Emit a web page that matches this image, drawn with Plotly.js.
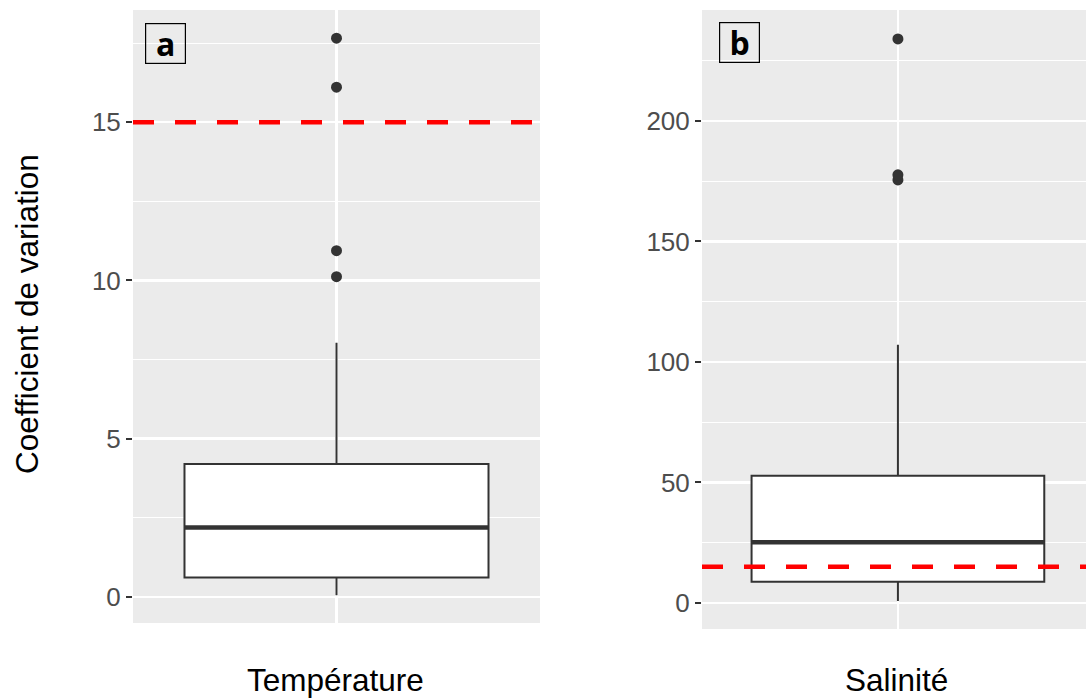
<!DOCTYPE html>
<html>
<head>
<meta charset="utf-8">
<script src="https://cdn.plot.ly/plotly-3.0.1.min.js"></script>
<style>html,body{margin:0;padding:0;background:#fff;}#chart{width:1086px;height:700px;}</style>
</head>
<body>
<div id="chart"></div>
<script>
// ---- data ----
const panelLabels = ['a', 'b'];
const categories = ['Température', 'Salinité'];
const yTitle = 'Coefficient de variation';
const thresholds = [15, 15];

const tempStats = {lower: 0.05, q1: 0.61, median: 2.19, q3: 4.2, upper: 8.03};
const tempOutliers = [10.12, 10.94, 16.11, 17.66];

const salStats = {lower: 0.8, q1: 8.8, median: 25.2, q3: 52.8, upper: 107.1};
const salOutliers = [175.5, 177.6, 234];

const tickValsA = [0, 5, 10, 15];
const tickValsB = [0, 50, 100, 150, 200];

// ---- style ----
const W = 1086, H = 700;
const dark = '#333333';
const boxW = 0.747;
const tickFont = {family: 'Liberation Sans, Arial, sans-serif', size: 26, color: '#4D4D4D'};
const titleFont = {family: 'Liberation Sans, Arial, sans-serif', size: 31.5, color: '#000000'};

function boxTrace(stats, xa, ya) {
  return {
    type: 'box', x: [0], q1: [stats.q1], median: [stats.median], q3: [stats.q3],
    lowerfence: [stats.lower], upperfence: [stats.upper],
    width: boxW, whiskerwidth: 0, fillcolor: '#FFFFFF', line: {color: dark, width: 2},
    boxpoints: false, xaxis: xa, yaxis: ya, hoverinfo: 'skip', showlegend: false
  };
}
function outlierTrace(vals, xa, ya) {
  return {
    type: 'scatter', mode: 'markers', x: vals.map(() => 0), y: vals,
    marker: {color: dark, size: 11}, xaxis: xa, yaxis: ya, hoverinfo: 'skip', showlegend: false
  };
}

const traces = [
  boxTrace(tempStats, 'x', 'y'), outlierTrace(tempOutliers, 'x', 'y'),
  boxTrace(salStats, 'x2', 'y2'), outlierTrace(salOutliers, 'x2', 'y2')
];

function xAxis(domain, range) {
  return {domain: domain, range: range, tickvals: [0], showticklabels: false, ticks: '',
    showgrid: true, gridcolor: '#FFFFFF', gridwidth: 2.2, zeroline: false, showline: false,
    fixedrange: true, automargin: false};
}
function yAxis(domain, range, tickvals, minorD, anchor) {
  return {domain: domain, range: range, tickvals: tickvals, anchor: anchor,
    ticks: 'outside', ticklen: 6, tickwidth: 2, tickcolor: dark, tickfont: tickFont,
    showgrid: true, gridcolor: '#FFFFFF', gridwidth: 2.2, zeroline: false, showline: false,
    minor: {dtick: minorD, showgrid: true, gridcolor: '#FFFFFF', gridwidth: 1.1},
    fixedrange: true, automargin: false};
}

const medianShape = (stats, xr, yr) => ({type: 'line', xref: xr, yref: yr,
  x0: -boxW / 2, x1: boxW / 2, y0: stats.median, y1: stats.median,
  line: {color: dark, width: 4.5}, layer: 'above'});
const threshShape = (v, xr, yr) => ({type: 'line', xref: xr + ' domain', yref: yr,
  x0: 0, x1: 1, y0: v, y1: v, line: {color: '#FF0000', width: 4.5, dash: '21px,21px'}, layer: 'above'});

const labelAnn = (txt, px, py) => ({text: '<b>' + txt + '</b>', xref: 'paper', yref: 'paper',
  x: px / W, y: 1 - py / H, xanchor: 'center', yanchor: 'middle', showarrow: false,
  font: {family: 'Open Sans, Liberation Sans, sans-serif', size: 32, color: '#000'},
  bordercolor: '#000', borderwidth: 1.2, borderpad: 0, width: 39, height: 39, valign: 'middle'});

const layout = {
  width: W, height: H, margin: {l: 0, r: 0, t: 0, b: 0},
  paper_bgcolor: '#FFFFFF', plot_bgcolor: '#EBEBEB', showlegend: false,
  xaxis: xAxis([133 / W, 540 / W], [-0.5, 0.5]),
  yaxis: yAxis([1 - 623 / H, 1 - 10 / H], [-0.83, 18.55], tickValsA, 2.5, 'x'),
  xaxis2: xAxis([702 / W, 1], [-0.5, 0.48]),
  yaxis2: yAxis([1 - 629 / H, 1 - 10 / H], [-10.8, 246], tickValsB, 25, 'x2'),
  shapes: [
    medianShape(tempStats, 'x', 'y'), medianShape(salStats, 'x2', 'y2'),
    threshShape(thresholds[0], 'x', 'y'), threshShape(thresholds[1], 'x2', 'y2')
  ],
  annotations: [
    labelAnn(panelLabels[0], 165.5, 43.5), labelAnn(panelLabels[1], 739.5, 43),
    {text: categories[0], xref: 'paper', yref: 'paper', x: 335 / W, y: 1 - 680 / H,
      xanchor: 'center', yanchor: 'middle', showarrow: false, font: titleFont},
    {text: categories[1], xref: 'paper', yref: 'paper', x: 897 / W, y: 0,
      xanchor: 'center', yanchor: 'bottom', showarrow: false, font: titleFont},
    {text: yTitle, xref: 'paper', yref: 'paper', x: 27 / W, y: 1 - 314 / H, textangle: -90,
      xanchor: 'center', yanchor: 'middle', showarrow: false, font: titleFont}
  ]
};

Plotly.newPlot('chart', traces, layout, {displayModeBar: false, staticPlot: true});
</script>
</body>
</html>
